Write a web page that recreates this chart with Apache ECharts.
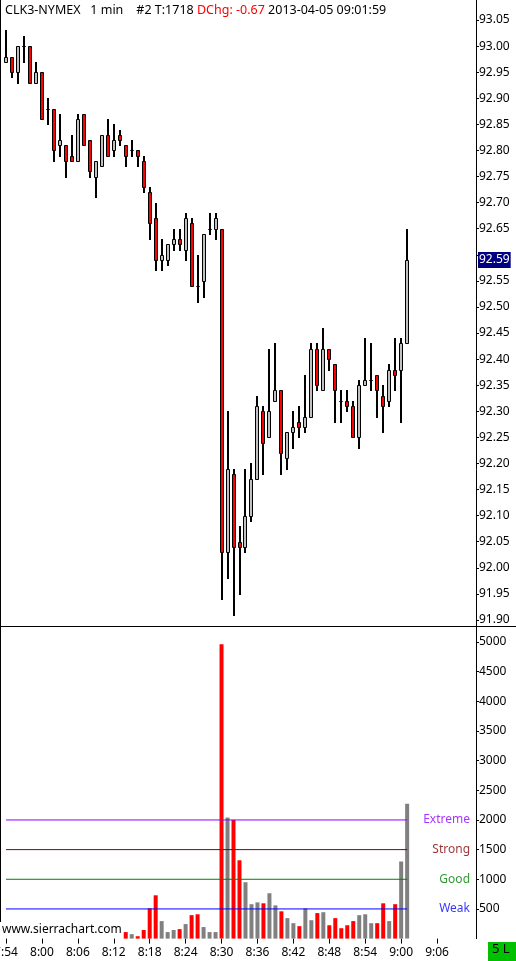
<!DOCTYPE html>
<html><head><meta charset="utf-8">
<script src="https://cdn.jsdelivr.net/npm/echarts@6/dist/echarts.min.js"></script>
<style>html,body{margin:0;padding:0;background:#fff}#c{width:516px;height:961px}</style>
</head><body><div id="c"></div>
<script>
// ---- data ----
const times = ['7:54','7:55','7:56','7:57','7:58','7:59','8:00','8:01','8:02','8:03','8:04','8:05','8:06','8:07','8:08','8:09','8:10','8:11','8:12','8:13','8:14','8:15','8:16','8:17','8:18','8:19','8:20','8:21','8:22','8:23','8:24','8:25','8:26','8:27','8:28','8:29','8:30','8:31','8:32','8:33','8:34','8:35','8:36','8:37','8:38','8:39','8:40','8:41','8:42','8:43','8:44','8:45','8:46','8:47','8:48','8:49','8:50','8:51','8:52','8:53','8:54','8:55','8:56','8:57','8:58','8:59','9:00','9:01','9:02','9:03','9:04','9:05','9:06','9:07','9:08','9:09','9:10','9:11','9:12'];
const opens  = [92.97,92.98,92.95,93.00,93.00,92.93,92.95,92.88,92.88,92.81,92.81,92.79,92.78,92.87,92.82,92.75,92.77,92.83,92.80,92.83,92.81,92.80,92.80,92.78,92.72,92.67,92.59,92.59,92.62,92.63,92.61,92.66,92.54,92.55,92.65,92.65,92.65,92.03,92.18,92.05,92.04,92.10,92.17,92.30,92.25,92.32,92.34,92.21,92.26,92.28,92.27,92.29,92.42,92.34,92.42,92.39,92.32,92.32,92.31,92.25,92.35,92.36,92.37,92.33,92.32,92.38,92.38,92.43];
const closes = [92.98,92.95,93.00,93.00,92.93,92.95,92.86,92.88,92.80,92.82,92.78,92.78,92.86,92.81,92.76,92.78,92.83,92.79,92.82,92.82,92.79,92.80,92.79,92.73,92.66,92.59,92.60,92.62,92.63,92.62,92.67,92.54,92.54,92.64,92.65,92.67,92.03,92.19,92.04,92.04,92.10,92.17,92.31,92.24,92.30,92.34,92.22,92.26,92.27,92.27,92.29,92.42,92.35,92.42,92.40,92.34,92.32,92.31,92.25,92.35,92.36,92.36,92.34,92.31,92.38,92.37,92.43,92.59];
const lows   = [92.97,92.94,92.93,92.97,92.93,92.93,92.86,92.85,92.78,92.79,92.75,92.78,92.78,92.81,92.75,92.71,92.77,92.79,92.79,92.81,92.77,92.79,92.77,92.72,92.63,92.57,92.57,92.58,92.61,92.61,92.59,92.54,92.51,92.52,92.64,92.63,91.94,91.98,91.91,91.95,92.03,92.09,92.17,92.18,92.25,92.32,92.18,92.19,92.23,92.25,92.26,92.29,92.34,92.34,92.38,92.28,92.28,92.30,92.25,92.23,92.35,92.34,92.29,92.26,92.31,92.34,92.28,92.43];
const highs  = [93.03,92.98,93.00,93.02,93.00,92.97,92.95,92.90,92.88,92.87,92.81,92.83,92.87,92.87,92.82,92.78,92.83,92.86,92.85,92.84,92.81,92.82,92.80,92.79,92.73,92.70,92.63,92.62,92.65,92.65,92.68,92.67,92.60,92.64,92.68,92.68,92.65,92.30,92.19,92.08,92.19,92.20,92.33,92.31,92.42,92.43,92.34,92.26,92.30,92.31,92.37,92.43,92.43,92.46,92.42,92.39,92.34,92.34,92.32,92.36,92.44,92.43,92.37,92.35,92.39,92.44,92.44,92.65];
const volumes = [null,null,null,null,null,null,null,null,null,null,null,null,null,null,null,null,null,null,null,null,
  110,75,40,145,510,730,295,110,145,160,245,395,410,195,110,110,4960,2040,2000,1320,950,580,610,595,765,560,460,345,260,210,510,310,430,445,225,345,175,225,295,395,410,260,260,595,295,580,1300,2275];
const volDir = ['','','','','','','','','','','','','','','','','','','','',
  'd','u','d','d','d','d','u','u','u','d','u','d','d','u','u','u','d','u','d','d','u','u','u','d','u','u','d','u','u','d','u','u','d','u','d','d','d','d','d','u','u','u','d','d','u','d','u','u'];
const thresholds = [500, 1000, 1500, 2000];
const thresholdNames = ['Weak', 'Good', 'Strong', 'Extreme'];
const titleParts = ['CLK3-NYMEX   1 min    #2 T:1718 ', 'DChg: -0.67', ' 2013-04-05 09:01:59'];

// ---- chart ----
const FONT = 'Noto Sans';
const thrColors = ['#0000ff', '#008000', '#800000', '#9100ff'];
const n = opens.length;
const lastClose = closes[n - 1];
const candleData = opens.map((o, i) => [i, o, closes[i], lows[i], highs[i]]);
const volData = volumes.map((v, i) => v == null ? null : { value: v, itemStyle: { color: volDir[i] === 'd' ? '#ff0000' : '#808080' } });

function renderCandle(params, api) {
  const idx = api.value(0);
  const o = api.value(1), c = api.value(2), l = api.value(3), h = api.value(4);
  const po = api.coord([idx, o]);
  const xc = Math.round(po[0]);
  const yo = po[1];
  const yc = api.coord([idx, c])[1];
  const yl = api.coord([idx, l])[1];
  const yh = api.coord([idx, h])[1];
  const top = Math.round(Math.min(yo, yc)) + 0.5;
  const bot = Math.round(Math.max(yo, yc)) + 0.5;
  const fill = c > o ? '#c0c0c0' : (c < o ? '#ff0000' : '#000000');
  return {
    type: 'group',
    children: [
      { type: 'line', shape: { x1: xc, y1: Math.round(yh), x2: xc, y2: Math.round(yl) + 1 }, style: { stroke: '#000', lineWidth: 2 } },
      { type: 'rect', shape: { x: xc - 1.5, y: top, width: 3, height: bot - top }, style: { fill: fill, stroke: '#000', lineWidth: 1 } }
    ]
  };
}

const tickIdx = (i) => i % 6 === 0 && i < times.length - 1;

const chart = echarts.init(document.getElementById('c'), null, { renderer: 'canvas', width: 516, height: 961 });
chart.setOption({
  animation: false,
  backgroundColor: '#ffffff',
  textStyle: { fontFamily: FONT },
  title: {
    left: 5, top: 1, padding: 0,
    text: '{a|' + titleParts[0] + '}{r|' + titleParts[1] + '}{a|' + titleParts[2] + '}',
    textStyle: {
      fontWeight: 'normal',
      rich: {
        a: { fontFamily: FONT, fontSize: 12.5, fontWeight: 'normal', color: '#000', lineHeight: 18 },
        r: { fontFamily: FONT, fontSize: 12.5, fontWeight: 'normal', color: '#ff0000', lineHeight: 18 }
      }
    }
  },
  grid: [
    { left: 3, right: 40, top: 20, height: 600, outerBoundsMode: 'none', containLabel: false },
    { left: 3, right: 40, top: 642, bottom: 22.4, outerBoundsMode: 'none', containLabel: false }
  ],
  xAxis: [
    { type: 'category', gridIndex: 0, data: times, boundaryGap: true, show: false },
    {
      type: 'category', gridIndex: 1, data: times, boundaryGap: true,
      axisLine: { show: false },
      axisTick: { show: true, alignWithLabel: true, interval: tickIdx, length: 5, lineStyle: { color: '#000' } },
      axisLabel: { interval: tickIdx, margin: 8, color: '#000', fontSize: 12, fontFamily: FONT, hideOverlap: false },
      splitLine: { show: false }
    }
  ],
  yAxis: [
    {
      type: 'value', gridIndex: 0, position: 'right', min: 91.90, max: 93.05, interval: 0.05,
      axisLine: { show: false },
      axisTick: { show: true, length: 3, lineStyle: { color: '#000' } },
      axisLabel: {
        margin: 3, color: '#000', fontSize: 12, fontFamily: FONT,
        formatter: v => Math.abs(v - lastClose) < 0.03 ? '' : v.toFixed(2)
      },
      splitLine: { show: false }
    },
    {
      type: 'value', gridIndex: 1, position: 'right', min: 0, max: 5000, interval: 500,
      axisLine: { show: false },
      axisTick: { show: true, length: 3, lineStyle: { color: '#000' } },
      axisLabel: { margin: 3, color: '#000', fontSize: 12, fontFamily: FONT, showMinLabel: false, formatter: v => String(v) },
      splitLine: { show: false }
    }
  ],
  series: [
    {
      name: 'price', type: 'custom', xAxisIndex: 0, yAxisIndex: 0, data: candleData,
      encode: { x: 0, y: [1, 2, 3, 4] }, renderItem: renderCandle, silent: true, clip: false,
      markLine: {
        silent: true, symbol: ['none', 'none'], animation: false,
        lineStyle: { color: 'rgba(0,0,0,0)', width: 1 },
        label: {
          show: true, position: 'end', distance: 2,
          formatter: p => Number(p.value).toFixed(2),
          backgroundColor: '#000080', color: '#ffffff', padding: [1, 1, 1, 1], lineHeight: 14,
          fontSize: 12, fontFamily: FONT, opacity: 1
        },
        data: [{ yAxis: lastClose }]
      }
    },
    {
      name: 'volume', type: 'bar', xAxisIndex: 1, yAxisIndex: 1, data: volData,
      barWidth: 4, silent: true
    }
  ].concat(thresholds.map((t, k) => ({
    name: thresholdNames[k], type: 'line', xAxisIndex: 1, yAxisIndex: 1, silent: true,
    symbol: 'none', lineStyle: { color: thrColors[k], width: 1 },
    data: [[times[0], t], [times[n - 1], t]]
  }))).concat([
    {
      name: 'thresholdLabels', type: 'scatter', xAxisIndex: 1, yAxisIndex: 1, symbolSize: 0, silent: true,
      data: thresholds.map((t, k) => ({
        value: [times[times.length - 1], t],
        label: { show: true, position: 'left', distance: 3, formatter: thresholdNames[k], color: thrColors[k], fontSize: 12, fontFamily: FONT }
      }))
    }
  ]),
  graphic: [
    { type: 'line', silent: true, shape: { x1: 476.5, y1: 0, x2: 476.5, y2: 939 }, style: { stroke: '#000', lineWidth: 1 } },
    { type: 'line', silent: true, shape: { x1: 0, y1: 626.5, x2: 516, y2: 626.5 }, style: { stroke: '#000', lineWidth: 1 } },
    { type: 'line', silent: true, shape: { x1: 0.5, y1: 0, x2: 0.5, y2: 922 }, style: { stroke: '#000', lineWidth: 1 } },
    { type: 'text', silent: true, left: 2, top: 924, style: { text: 'www.sierrachart.com', fill: '#000', font: '12px "Noto Sans"', backgroundColor: '#fff' } },
    { type: 'rect', silent: true, shape: { x: 488, y: 942, width: 28, height: 19 }, style: { fill: '#00c000' } },
    { type: 'text', silent: true, left: 492, top: 943, style: { text: '5 L', fill: '#000', font: '13px "Noto Sans"' } }
  ]
});
</script>
</body></html>
